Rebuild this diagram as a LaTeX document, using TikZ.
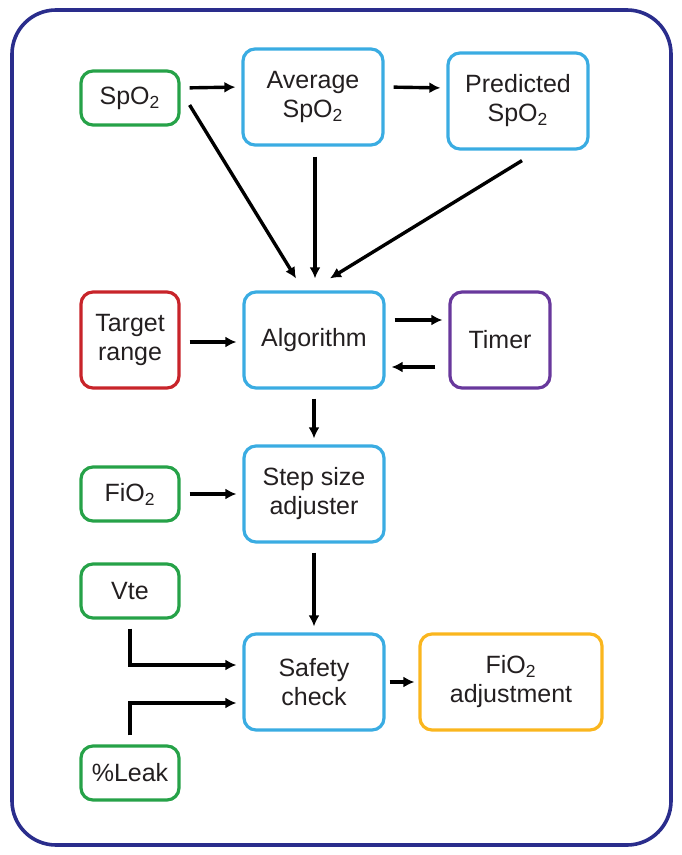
\documentclass[tikz,border=0pt]{standalone}
\usepackage{fontspec}
\setmainfont{Liberation Sans}
\usetikzlibrary{arrows.meta,positioning}

\definecolor{framenavy}{RGB}{42,45,140}
\definecolor{inputgreen}{RGB}{38,162,72}
\definecolor{procblue}{RGB}{58,172,226}
\definecolor{rangered}{RGB}{200,36,42}
\definecolor{timerpurple}{RGB}{104,56,156}
\definecolor{outorange}{RGB}{250,182,30}
\definecolor{labelgray}{RGB}{35,31,32}

\tikzset{
  box/.style={draw, line width=1.6pt, rounded corners=6pt, align=center,
    text=labelgray, font=\fontsize{12.5}{14.5}\selectfont, inner sep=2pt},
  smallbox/.style={box, draw=inputgreen, minimum width=49pt, minimum height=27pt},
  bigbox/.style={box, draw=procblue, minimum width=70pt, minimum height=48pt},
  flow/.style={-{Latex[length=5.5pt,width=5.5pt]}, line width=1.7pt,
    shorten <=4.5pt, shorten >=3pt},
  slant/.style={flow, shorten <=0pt, shorten >=0pt}
}

\begin{document}
\begin{tikzpicture}[x=0.5pt,y=-0.5pt]
  \useasboundingbox (0,0) rectangle (681,855);

  % Frame
  \draw[framenavy, line width=1.8pt, rounded corners=22pt] (12,10) rectangle (671,845);

  % Top row
  \node[smallbox] (spo2) at (130,98) {SpO\textsubscript{2}};
  \node[bigbox] (avg) at (313,97) {Average\\SpO\textsubscript{2}};
  \node[bigbox] (pred) at (518,101) {Predicted\\SpO\textsubscript{2}};

  % Middle row
  \node[bigbox, draw=rangered, minimum width=49pt] (range) at (130,340) {Target\\range};
  \node[bigbox] (algo) at (314,340) {Algorithm};
  \node[bigbox, draw=timerpurple, minimum width=50pt] (timer) at (500,340) {Timer};

  % Step size
  \node[smallbox] (fio2) at (130,494) {FiO\textsubscript{2}};
  \node[bigbox] (step) at (314,494) {Step size\\adjuster};

  % Safety
  \node[smallbox] (vte) at (130,591) {Vte};
  \node[bigbox] (safety) at (314,682) {Safety\\check};
  \node[bigbox, draw=outorange, minimum width=91pt] (adjust) at (511,682) {FiO\textsubscript{2}\\adjustment};
  \node[smallbox] (leak) at (130,773) {\%Leak};

  % Arrows
  \draw[flow] ([yshift=5pt]spo2.east) -- ([yshift=5pt]avg.west);
  \draw[flow] ([yshift=5pt]avg.east) -- ([yshift=6.5pt]pred.west);
  \draw[slant] ([shift={(9,7)}]spo2.east) -- ([shift={(-18,-12)}]algo.north);
  \draw[slant] ([shift={(2,10)}]avg.south) -- ([shift={(1,-12)}]algo.north);
  \draw[slant] ([shift={(4,10)}]pred.south) -- ([shift={(16,-12)}]algo.north);
  \draw[flow] ([yshift=-1pt]range.east) -- ([yshift=-1pt]algo.west);
  \draw[flow] ([yshift=10pt]algo.east) -- ([yshift=10pt]timer.west);
  \draw[flow, shorten <=6.5pt] ([yshift=-13.5pt]timer.west) -- ([yshift=-13.5pt]algo.east);
  \draw[flow] (algo) -- (step);
  \draw[flow] (fio2) -- (step);
  \draw[flow] (step) -- (safety);
  \draw[flow] (vte.south) |- ([yshift=8.5pt]safety.west);
  \draw[flow] (leak.north) |- ([yshift=-10.5pt]safety.west);
  \draw[flow, shorten <=2pt, shorten >=2pt] (safety) -- (adjust);
\end{tikzpicture}
\end{document}
